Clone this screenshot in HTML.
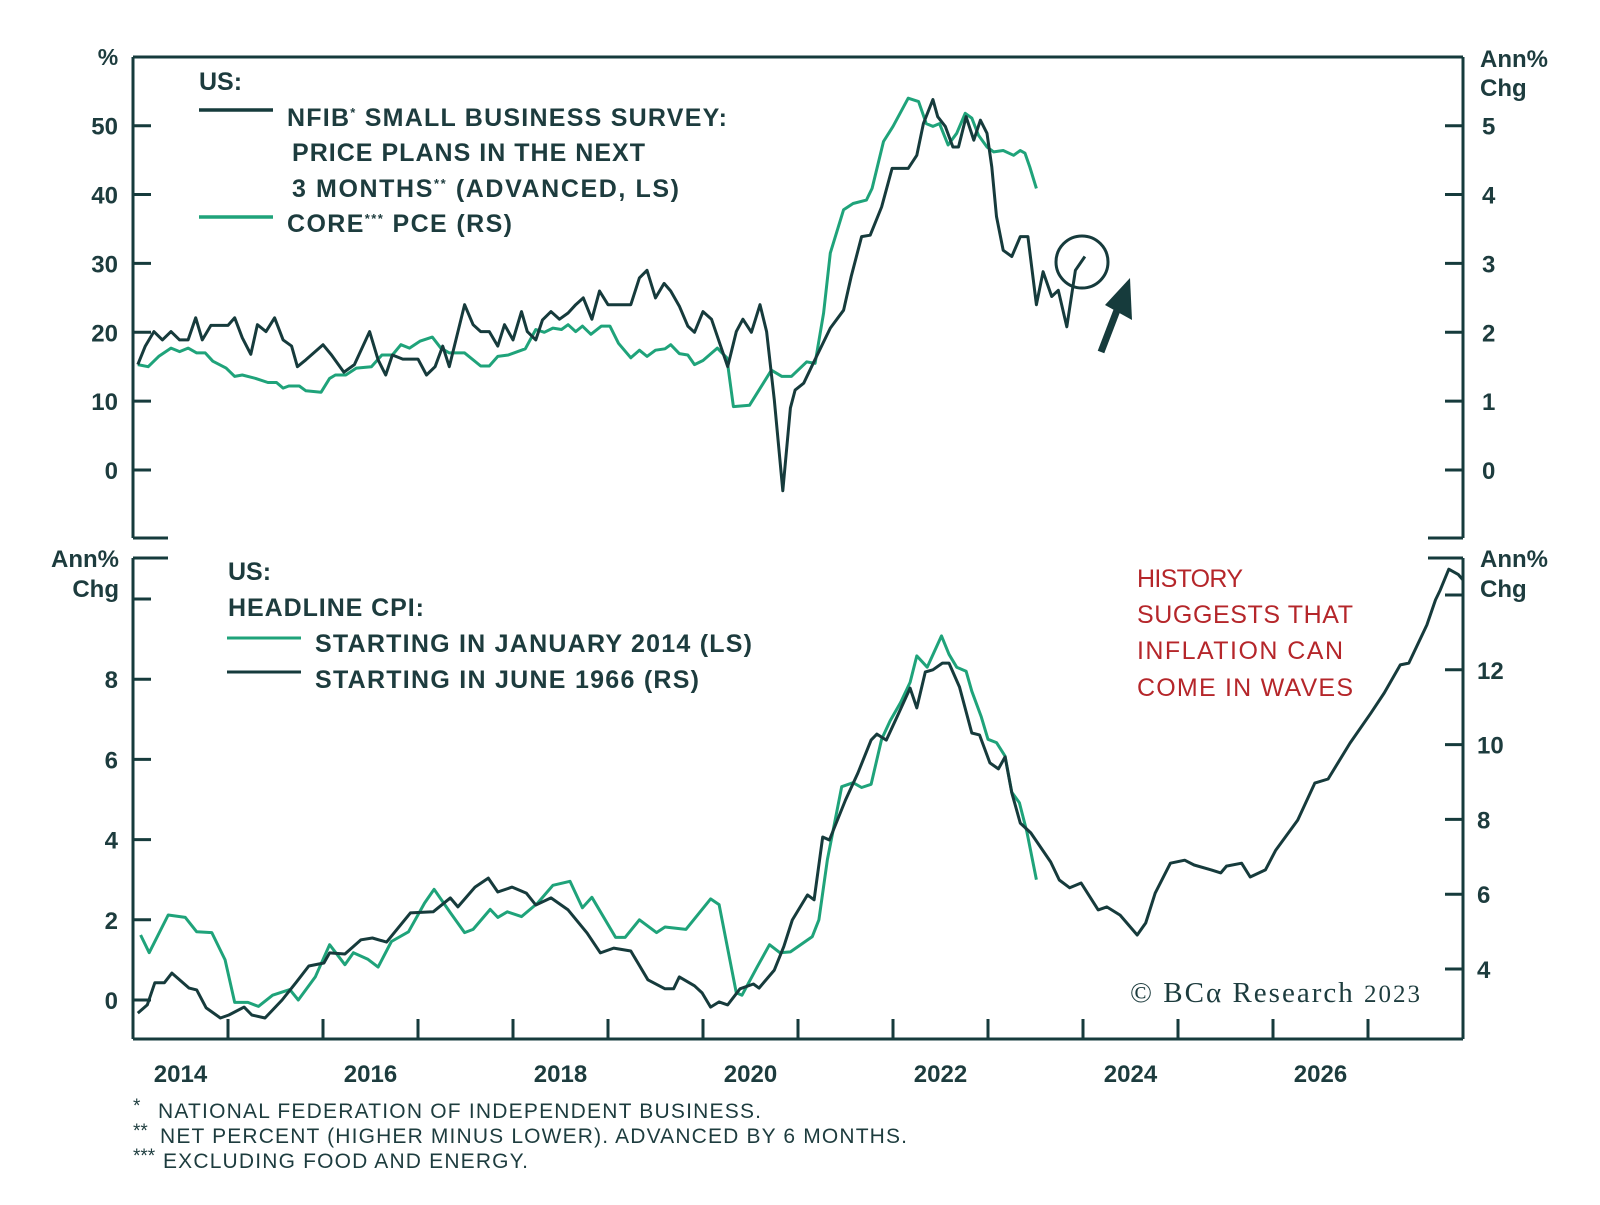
<!DOCTYPE html>
<html><head><meta charset="utf-8"><style>
html,body{margin:0;padding:0;background:#fff}
svg{display:block}
text{font-family:"Liberation Sans",sans-serif;fill:#1d3c3e}
.b{font-weight:bold}
</style></head><body>
<svg id="chart" width="1600" height="1205" viewBox="0 0 1600 1205">
<g id="frame"></g>
<g id="plots"></g>
<g>
<text x="199" y="90" font-size="25" class="b">US:</text>
<line x1="199" y1="110" x2="273" y2="110" stroke="#163b3c" stroke-width="3.5"/>
<text x="287" y="126" font-size="25" class="b" textLength="440">NFIB<tspan font-size="13" dy="-9">*</tspan><tspan dy="9"> SMALL BUSINESS SURVEY:</tspan></text>
<text x="292" y="161" font-size="25" class="b" textLength="353">PRICE PLANS IN THE NEXT</text>
<text x="292" y="197" font-size="25" class="b" textLength="387">3 MONTHS<tspan font-size="13" dy="-9">**</tspan><tspan dy="9"> (ADVANCED, LS)</tspan></text>
<line x1="199" y1="217" x2="273" y2="217" stroke="#1fa37a" stroke-width="3.5"/>
<text x="287" y="232" font-size="25" class="b" textLength="225">CORE<tspan font-size="13" dy="-9">***</tspan><tspan dy="9"> PCE (RS)</tspan></text>
</g>
<g>
<text x="228" y="580" font-size="25" class="b">US:</text>
<text x="228" y="616" font-size="25" class="b" textLength="196">HEADLINE CPI:</text>
<line x1="227" y1="638" x2="301" y2="638" stroke="#1fa37a" stroke-width="3"/>
<text x="315" y="652" font-size="25" class="b" textLength="437">STARTING IN JANUARY 2014 (LS)</text>
<line x1="227" y1="672" x2="301" y2="672" stroke="#163b3c" stroke-width="3"/>
<text x="315" y="688" font-size="25" class="b" textLength="384">STARTING IN JUNE 1966 (RS)</text>
</g>
<g>
<text x="1137" y="587" font-size="25" style="fill:#b5262a" textLength="106">HISTORY</text>
<text x="1137" y="623" font-size="25" style="fill:#b5262a" textLength="216">SUGGESTS THAT</text>
<text x="1137" y="659" font-size="25" style="fill:#b5262a" textLength="206">INFLATION CAN</text>
<text x="1137" y="696" font-size="25" style="fill:#b5262a" textLength="216">COME IN WAVES</text>
</g>
<circle cx="1082" cy="262" r="26" fill="none" stroke="#163b3c" stroke-width="3"/>
<g>
<line x1="1101" y1="352" x2="1119" y2="305" stroke="#163b3c" stroke-width="7"/>
<polygon points="1130,278 1132,320 1105,305" fill="#163b3c"/>
</g>
<text x="1130" y="1002" font-size="29" style="font-family:'Liberation Serif',serif" textLength="290">© BCα Research <tspan font-size="25">2023</tspan></text>
<g>
<text x="133" y="1112" font-size="19">*</text>
<text x="158" y="1118" font-size="21" textLength="603">NATIONAL FEDERATION OF INDEPENDENT BUSINESS.</text>
<text x="133" y="1137" font-size="19">**</text>
<text x="160" y="1143" font-size="21" textLength="747">NET PERCENT (HIGHER MINUS LOWER). ADVANCED BY 6 MONTHS.</text>
<text x="133" y="1162" font-size="19">***</text>
<text x="163" y="1168" font-size="21" textLength="365">EXCLUDING FOOD AND ENERGY.</text>
</g>
</svg>
<script>
// years since Jan 2014 and values
const nfibDates=[.05,.13,.22,.31,.40,.49,.58,.66,.73,.82,1.0,1.07,1.15,1.24,1.31,1.40,1.49,1.58,1.67,1.73,1.82,2.0,2.09,2.22,2.33,2.49,2.58,2.66,2.73,2.84,3.0,3.09,3.18,3.26,3.33,3.49,3.58,3.66,3.75,3.84,3.91,4.0,4.09,4.15,4.24,4.31,4.40,4.49,4.58,4.66,4.74,4.83,4.91,5.0,5.24,5.33,5.41,5.50,5.59,5.66,5.75,5.84,5.91,6.0,6.09,6.26,6.35,6.42,6.51,6.60,6.67,6.75,6.84,6.92,6.97,7.06,7.16,7.34,7.48,7.56,7.67,7.76,7.88,7.99,8.16,8.25,8.32,8.42,8.47,8.55,8.63,8.69,8.77,8.85,8.92,8.99,9.04,9.09,9.16,9.25,9.34,9.42,9.51,9.58,9.67,9.74,9.83,9.92,10.02];
const nfibValues=[15.3,18,20.1,18.9,20.1,18.9,18.9,22.1,18.9,21,21,22.1,19.2,16.8,21.1,20.1,22.1,18.9,18,15,16,18.2,16.7,14.2,15.3,20.1,16,13.8,16.7,16.1,16.1,13.8,15,18,15,24,21.1,20.1,20.1,18,21.1,18.9,23,20.1,18.9,21.8,23,21.9,22.8,24,25,21.9,26,24,24,27.9,29,25,27.1,26,23.8,20.9,20,23,21.9,15,20.1,21.9,20,24,20.1,10.2,-3,9.0,11.6,12.6,15.5,20.6,23.2,28.1,33.9,34.1,38.2,43.8,43.8,45.7,50.3,53.8,51.3,49.9,46.9,46.9,51.3,47.9,50.8,48.9,44.0,36.8,31.9,31.0,33.9,33.9,24.0,28.8,25.2,26.1,20.8,29.0,31.0];
const pceDates=[.05,.16,.27,.40,.49,.58,.67,.76,.84,.98,1.07,1.15,1.29,1.42,1.51,1.58,1.64,1.75,1.82,1.98,2.07,2.13,2.24,2.35,2.51,2.62,2.73,2.82,2.91,3.02,3.15,3.24,3.33,3.49,3.66,3.75,3.84,3.95,4.13,4.24,4.33,4.42,4.51,4.58,4.66,4.73,4.82,4.93,5.02,5.11,5.24,5.33,5.41,5.50,5.60,5.66,5.75,5.84,5.91,6.0,6.15,6.25,6.32,6.49,6.72,6.83,6.93,7.09,7.18,7.27,7.34,7.48,7.58,7.72,7.78,7.90,8.0,8.16,8.27,8.35,8.42,8.49,8.58,8.67,8.76,8.83,8.90,8.99,9.06,9.16,9.27,9.34,9.39,9.44,9.51];
const pceValues=[1.53,1.5,1.65,1.77,1.72,1.77,1.7,1.7,1.58,1.48,1.36,1.38,1.33,1.27,1.27,1.19,1.22,1.22,1.15,1.13,1.33,1.38,1.38,1.48,1.5,1.67,1.67,1.82,1.77,1.87,1.93,1.77,1.7,1.7,1.51,1.51,1.65,1.67,1.76,2.04,2.0,2.06,2.04,2.11,2.01,2.09,1.97,2.09,2.09,1.84,1.63,1.74,1.65,1.74,1.76,1.82,1.69,1.67,1.53,1.59,1.77,1.63,.92,.94,1.45,1.36,1.36,1.57,1.55,2.28,3.15,3.78,3.87,3.92,4.09,4.77,4.99,5.40,5.35,5.03,4.99,5.03,4.72,4.89,5.18,5.11,4.86,4.69,4.62,4.64,4.57,4.64,4.60,4.40,4.09];
const cpi2014Dates=[.08,.17,.37,.55,.67,.83,.97,1.07,1.21,1.32,1.47,1.65,1.74,1.92,2.07,2.23,2.32,2.47,2.58,2.72,2.90,3.07,3.17,3.34,3.49,3.58,3.76,3.84,3.94,4.09,4.26,4.42,4.60,4.73,4.83,5.08,5.18,5.33,5.51,5.60,5.82,6.08,6.17,6.35,6.41,6.57,6.70,6.81,6.92,7.15,7.22,7.31,7.46,7.58,7.67,7.77,7.88,7.97,8.08,8.18,8.25,8.36,8.51,8.59,8.67,8.77,8.83,8.93,9.0,9.09,9.18,9.25,9.33,9.41,9.51];
const cpi2014Values=[1.62,1.18,2.12,2.06,1.70,1.68,1.0,-.06,-.06,-.16,.12,.26,0,.58,1.38,.88,1.18,1.02,.82,1.46,1.70,2.42,2.76,2.18,1.68,1.76,2.26,2.06,2.20,2.08,2.42,2.86,2.96,2.30,2.56,1.56,1.56,2.0,1.68,1.82,1.76,2.52,2.38,.18,.12,.82,1.38,1.18,1.2,1.58,2.0,3.5,5.32,5.42,5.3,5.38,6.5,6.96,7.42,7.92,8.58,8.3,9.08,8.62,8.3,8.2,7.7,7.06,6.5,6.42,6.08,5.18,4.92,4.18,3.0];
const cpi1966Dates=[.05,.15,.23,.33,.41,.59,.67,.77,.92,1.01,1.17,1.25,1.39,1.57,1.72,1.85,2.01,2.07,2.23,2.40,2.52,2.67,2.92,3.16,3.34,3.42,3.60,3.74,3.84,3.99,4.14,4.24,4.40,4.58,4.78,4.92,5.06,5.24,5.42,5.60,5.69,5.75,5.91,5.99,6.08,6.17,6.26,6.39,6.53,6.59,6.75,6.85,6.94,7.1,7.17,7.26,7.33,7.5,7.63,7.77,7.83,7.93,8.06,8.18,8.25,8.34,8.42,8.52,8.59,8.7,8.83,8.91,9.02,9.11,9.18,9.25,9.34,9.45,9.66,9.75,9.86,9.98,10.16,10.25,10.39,10.57,10.66,10.76,10.92,11.07,11.17,11.35,11.45,11.51,11.67,11.76,11.92,12.03,12.26,12.44,12.58,12.81,13.03,13.17,13.34,13.43,13.62,13.71,13.76,13.85,13.95,14.0];
const cpi1966Values=[2.82,3.04,3.63,3.63,3.89,3.49,3.44,2.96,2.69,2.77,2.98,2.77,2.69,3.17,3.65,4.08,4.16,4.43,4.40,4.78,4.83,4.72,5.50,5.53,5.90,5.66,6.19,6.43,6.06,6.19,6.03,5.71,5.90,5.58,4.96,4.43,4.56,4.48,3.71,3.47,3.47,3.79,3.55,3.36,2.98,3.12,3.04,3.47,3.60,3.49,3.97,4.6,5.31,5.98,5.85,7.53,7.45,8.52,9.24,10.12,10.28,10.12,10.84,11.51,10.98,11.94,12.0,12.18,12.18,11.54,10.31,10.26,9.51,9.35,9.67,8.71,7.9,7.64,6.86,6.38,6.17,6.30,5.58,5.66,5.44,4.91,5.23,6.03,6.83,6.91,6.78,6.65,6.57,6.75,6.83,6.46,6.65,7.18,7.98,8.97,9.08,10.04,10.84,11.38,12.13,12.18,13.2,13.87,14.13,14.69,14.55,14.4];
const yearLabels=["2014","2016","2018","2020","2022","2024","2026"];
const topLeftTicks=[0,10,20,30,40,50];
const topRightTicks=[0,1,2,3,4,5];
const botLeftTicks=[0,2,4,6,8];
const botRightTicks=[4,6,8,10,12];

const NS="http://www.w3.org/2000/svg";
const X0=133,X1=1463,YRS=14;
const x=t=>X0+(t/YRS)*(X1-X0);
const yTL=v=>470-v*6.886, yTR=v=>470-v*68.86;
const yBL=v=>1000-v*40.1, yBR=v=>969-(v-4)*37.4;
const C="#163b3c", G="#1fa37a";
function mk(tag,attrs,parent){const e=document.createElementNS(NS,tag);for(const k in attrs)e.setAttribute(k,attrs[k]);parent.appendChild(e);return e;}
const frame=document.getElementById('frame'), plots=document.getElementById('plots');
function seg(x1,y1,x2,y2,name,w){const l=mk('line',{x1,y1,x2,y2,stroke:C,'stroke-width':w||3},frame);

}
seg(X0,57,X1,57,'top-panel-top-border');
seg(X0,57,X0,538,'top-left-axis');
seg(X1,57,X1,538,'top-right-axis');
seg(X0,538,X0+35,538,'top-bottom-stub-left');
seg(X1-35,538,X1,538,'top-bottom-stub-right');
seg(X0,558,X0+35,558,'bottom-top-stub-left');
seg(X1-35,558,X1,558,'bottom-top-stub-right');
seg(X0,558,X0,1039,'bottom-left-axis');
seg(X1,558,X1,1039,'bottom-right-axis');
seg(X0,1039,X1,1039,'x-axis');
function txt(s,xx,yy,anchor,size,name,bold){const t=mk('text',{x:xx,y:yy,'text-anchor':anchor,'font-size':size},frame);if(bold)t.setAttribute('class','b');t.textContent=s;

return t;}
topLeftTicks.forEach(v=>{seg(X0,yTL(v),X0+18,yTL(v),'top-left-tick');txt(String(v),118,yTL(v)+9,'end',24,'top-left-tick-label',true);});
topRightTicks.forEach(v=>{seg(X1-18,yTR(v),X1,yTR(v),'top-right-tick');txt(String(v),1482,yTR(v)+9,'start',24,'top-right-tick-label',true);});
botLeftTicks.concat([10]).forEach(v=>{seg(X0,yBL(v),X0+18,yBL(v),'bottom-left-tick');if(v<10)txt(String(v),118,yBL(v)+9,'end',24,'bottom-left-tick-label',true);});
botRightTicks.concat([14]).forEach(v=>{seg(X1-18,yBR(v),X1,yBR(v),'bottom-right-tick');if(v<14)txt(String(v),1477,yBR(v)+9,'start',24,'bottom-right-tick-label',true);});
for(let k=1;k<YRS;k++)seg(x(k),1019,x(k),1039,'x-tick');
yearLabels.forEach(s=>{const yr=+s;txt(s,x(yr-2014+0.5),1082,'middle',24,'x-tick-label',true);});
txt('%',108,65,'middle',23,'top-left-axis-title',true);
txt('Ann%',1480,67,'start',24,'top-right-axis-title',true);txt('Chg',1480,96,'start',24,'top-right-axis-title-2',true);
txt('Ann%',119,567,'end',24,'bottom-left-axis-title',true);txt('Chg',119,597,'end',24,'bottom-left-axis-title-2',true);
txt('Ann%',1480,567,'start',24,'bottom-right-axis-title',true);txt('Chg',1480,597,'start',24,'bottom-right-axis-title-2',true);
function line(ds,vs,fy,col,name){const d=ds.map((t,i)=>(i?'L':'M')+x(t).toFixed(1)+','+fy(vs[i]).toFixed(1)).join('');
const p=mk('path',{d,fill:'none',stroke:col,'stroke-width':3,'stroke-linejoin':'round'},plots);

}
line(pceDates,pceValues,yTR,G,'core-pce-line');
line(nfibDates,nfibValues,yTL,C,'nfib-price-plans-line');
line(cpi2014Dates,cpi2014Values,yBL,G,'cpi-2014-line');
line(cpi1966Dates,cpi1966Values,yBR,C,'cpi-1966-line');
</script>
</body></html>
